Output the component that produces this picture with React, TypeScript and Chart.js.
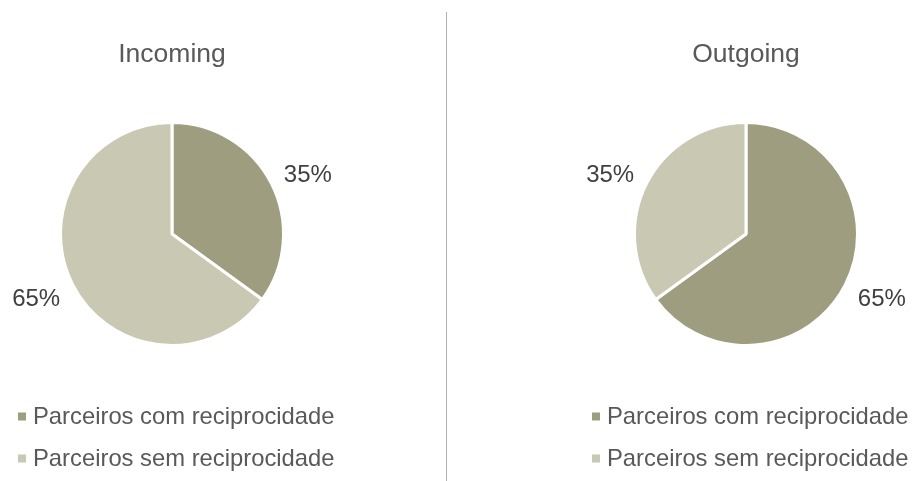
import React, { useEffect, useRef } from "react";
import { Chart, registerables } from "chart.js";

Chart.register(...registerables);

const categories = ["Parceiros com reciprocidade", "Parceiros sem reciprocidade"];
const incomingValues = [35, 65];
const outgoingValues = [65, 35];
const chartTitles = ["Incoming", "Outgoing"];
const sliceColors = ["#9E9D7F", "#C9C8B3"];

const FONT = '"Liberation Sans", Arial, sans-serif';

const decorPlugin = {
  id: "decor",
  afterDraw(chart: any, _args: any, opts: any) {
    const ctx = chart.ctx;
    const meta = chart.getDatasetMeta(0);
    const arc0 = meta.data[0];
    const cx = arc0.x;
    const cy = arc0.y;
    const r = arc0.outerRadius;
    ctx.save();
    // title
    ctx.fillStyle = "#595959";
    ctx.font = `26.5px ${FONT}`;
    ctx.textAlign = "center";
    ctx.textBaseline = "middle";
    ctx.fillText(opts.title, cx, 55);

    // percentage labels
    const ds = chart.data.datasets[0].data as number[];
    const total = ds.reduce((a, b) => a + b, 0);
    ctx.font = `24px ${FONT}`;
    ctx.fillStyle = "#404040";
    meta.data.forEach((arc: any, i: number) => {
      const mid = (arc.startAngle + arc.endAngle) / 2;
      const R = r + 14;
      const px = cx + Math.cos(mid) * R;
      const py = cy + Math.sin(mid) * R;
      const txt = Math.round((ds[i] / total) * 100) + "%";
      const w = ctx.measureText(txt).width;
      const sx = Math.cos(mid) >= 0 ? 1 : -1;
      const sy = Math.sin(mid) >= 0 ? 1 : -1;
      ctx.fillText(txt, px + sx * w / 2, py + sy * 5 + 3);
    });

    // legend
    ctx.font = `23.8px ${FONT}`;
    ctx.textAlign = "left";
    const rows = [416.5, 458.5];
    chart.data.labels.forEach((lab: string, i: number) => {
      const y = rows[i];
      ctx.fillStyle = sliceColors[i];
      ctx.fillRect(cx - 154, y - 4, 8, 8);
      ctx.fillStyle = "#595959";
      ctx.fillText(lab, cx - 139, y + 1);
    });
    ctx.restore();
  },
};

function PieChart({ values, title, left, width }: { values: number[]; title: string; left: number; width: number }) {
  const ref = useRef<HTMLCanvasElement>(null);
  useEffect(() => {
    const chart = new Chart(ref.current!, {
      type: "pie",
      data: {
        labels: categories,
        datasets: [
          {
            data: values,
            backgroundColor: sliceColors,
            borderColor: "#ffffff",
            borderWidth: 3,
          },
        ],
      },
      options: {
        responsive: false,
        animation: false,
        layout: { padding: { top: 121, bottom: 134, left: 0, right: 0 } },
        plugins: {
          legend: { display: false },
          title: { display: false },
          tooltip: { enabled: false },
          decor: { title },
        } as any,
      },
      plugins: [decorPlugin],
    });
    return () => chart.destroy();
  }, [values, title]);
  return (
    <canvas
      ref={ref}
      width={width}
      height={481}
      style={{ position: "absolute", left, top: 0, width, height: 481 }}
    />
  );
}

export default function App() {
  return (
    <div style={{ position: "absolute", left: 0, top: 0, width: 914, height: 481, background: "#fff", overflow: "hidden" }}>
      <PieChart values={incomingValues} title={chartTitles[0]} left={0} width={344} />
      <div style={{ position: "absolute", left: 446, top: 12, width: 1, height: 469, background: "#b0b0b0" }} />
      <PieChart values={outgoingValues} title={chartTitles[1]} left={578} width={336} />
    </div>
  );
}
